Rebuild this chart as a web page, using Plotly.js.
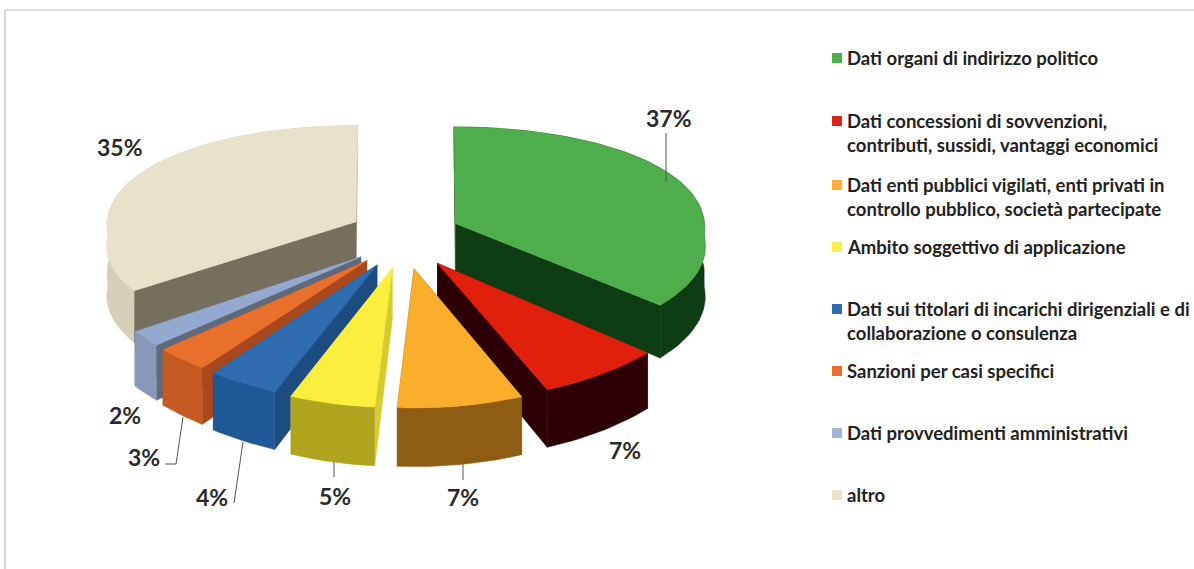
<!DOCTYPE html>
<html>
<head>
<meta charset="utf-8">
<script src="https://cdn.plot.ly/plotly-3.0.1.min.js"></script>
<style>html,body{margin:0;padding:0;background:#fff;overflow:hidden}#chart{width:1194px;height:569px}</style>
</head>
<body>
<div id="chart"></div>
<script>
// ---- data ----
const categories = [
  "Dati organi di indirizzo politico",
  "Dati concessioni di sovvenzioni,<br>contributi, sussidi, vantaggi economici",
  "Dati enti pubblici vigilati, enti privati in<br>controllo pubblico, società partecipate",
  "Ambito soggettivo di applicazione",
  "Dati sui titolari di incarichi dirigenziali e di<br>collaborazione o consulenza",
  "Sanzioni per casi specifici",
  "Dati provvedimenti amministrativi",
  "altro"
];
const values = [37, 7, 7, 5, 4, 3, 2, 35];
const topColors  = ["#4eae4c", "#e0200c", "#fbae2c", "#fbee3c", "#2f6db0", "#e8702c", "#94a9d0", "#e9e2cb"];
const rimColors  = ["#0e3d14", "#2c0004", "#8f5c14", "#b0a41e", "#1f5896", "#c55a22", "#8798b8", "#d6cfb8"];
const sideColors = ["#0e3d14", "#2c0004", "#8f5c14", "#d6ca30", "#1c4c80", "#a8481c", "#5e6a7c", "#776f5e"];
const legendColors = ["#4eae4c", "#d8261a", "#fbae3c", "#fbee50", "#2f6db0", "#e8702c", "#a4b4d4", "#ece4d0"];

// ---- presentation settings ----
const drawOrder = [7, 0, 6, 5, 4, 1, 3, 2];
const geo = {cx: 405, cy: 236, A: 250, B: 118, perspY: 0.1355, perspBack: 0.03,
             pullX: 0.22, pullY: 0.27, radiusY: 0.95, depth: 49};
const legendRowY = [58, 121, 185, 247, 309, 371, 433, 495];
const legendX = 837, legendTextX = 847, lineStep = 24;
const labelPos = [[669,118],[625,450],[463,497],[335,496],[212,497],[144,457],[125,415],[120,147]];
const leaders = [
  [[666,133],[666,182]],
  [[463,464],[463,480]],
  [[334,462],[334,477]],
  [[243,442],[234,503]],
  [[183,417],[176,464],[165,464]]
];
const labelFont = {family: "Lato, Carlito, sans-serif", size: 23, color: "#2a2a2a", weight: 700};
const legendFont = {family: "Lato, Carlito, sans-serif", size: 18.5, color: "#222", weight: 700};

// ---- projection of the exploded pie ----
function project(X, Y, z) {
  const s = 1 / (1 - Y * geo.perspY);
  const tx = Y < 0 ? geo.perspBack : (X < 0 ? Math.max(0, 0.22 - 0.125 * Y) : 0.2 - 0.07 * Y);
  const sx = 1 / (1 - Y * tx);
  return [geo.cx + geo.A * X * sx, geo.cy + geo.B * Y * s + z * geo.depth * s];
}
const total = values.reduce((a, b) => a + b, 0);
const sweeps = [];
values.reduce((acc, v) => { sweeps.push([acc / total, (acc + v) / total]); return acc + v; }, 0);

function slicePoints(i) {
  const t0 = sweeps[i][0] * 2 * Math.PI, t1 = sweeps[i][1] * 2 * Math.PI, mid = (t0 + t1) / 2;
  const ax = geo.pullX * Math.sin(mid), ay = -geo.pullY * Math.cos(mid);
  const n = Math.max(4, Math.ceil(values[i] * 2));
  const rim = [];
  for (let k = 0; k <= n; k++) {
    const t = t0 + (t1 - t0) * k / n;
    rim.push([ax + Math.sin(t), ay - geo.radiusY * Math.cos(t)]);
  }
  return {apex: [ax, ay], rim};
}
function shapeTrace(p, color, name) {
  return {type: "scatter", mode: "lines", x: p.map(q => q[0]), y: p.map(q => q[1]),
    fill: "toself", fillcolor: color, line: {color: color, width: 0.5},
    hoverinfo: "text", text: name, showlegend: false};
}
function band(points, color, name) {
  const t = points.map(q => project(q[0], q[1], 0));
  const b = points.slice().reverse().map(q => project(q[0], q[1], 1));
  return shapeTrace(t.concat(b), color, name);
}
const traces = [];
drawOrder.forEach(i => {
  const s = slicePoints(i), name = categories[i] + ": " + values[i] + "%";
  traces.push(band([s.apex, s.rim[0]], sideColors[i], name));
  traces.push(band([s.apex, s.rim[s.rim.length - 1]], sideColors[i], name));
  traces.push(band(s.rim, rimColors[i], name));
  traces.push(shapeTrace([s.apex].concat(s.rim, [s.apex]).map(q => project(q[0], q[1], 0)), topColors[i], name));
});

// leader lines
leaders.forEach(l => traces.push({type: "scatter", mode: "lines", x: l.map(q => q[0]), y: l.map(q => q[1]),
  line: {color: "#555", width: 1}, hoverinfo: "skip", showlegend: false}));

// legend swatches
traces.push({type: "scatter", mode: "markers", x: legendRowY.map(() => legendX), y: legendRowY,
  marker: {symbol: "square", size: 10, color: legendColors}, hoverinfo: "skip", showlegend: false});

const annotations = [];
values.forEach((v, i) => annotations.push({x: labelPos[i][0], y: labelPos[i][1], xref: "x", yref: "y",
  text: v + "%", showarrow: false, font: labelFont, xanchor: "center", yanchor: "middle"}));
categories.forEach((c, i) => c.split("<br>").forEach((line, j) => annotations.push({
  x: legendTextX, y: legendRowY[i] + j * lineStep, xref: "x", yref: "y", text: line, showarrow: false,
  font: legendFont, xanchor: "left", yanchor: "middle", xshift: -2})));

const hidden = {visible: false, fixedrange: true};
Plotly.newPlot("chart", traces, {
  width: 1194, height: 569, margin: {l: 0, r: 0, t: 0, b: 0},
  paper_bgcolor: "#fff", plot_bgcolor: "#fff", showlegend: false,
  xaxis: Object.assign({range: [0, 1194]}, hidden),
  yaxis: Object.assign({range: [569, 0]}, hidden),
  annotations,
  shapes: [
    {type: "line", xref: "x", yref: "y", x0: 5, x1: 1194, y0: 10, y1: 10, line: {color: "#bdbdbd", width: 1.2}},
    {type: "line", xref: "x", yref: "y", x0: 5, x1: 5, y0: 10, y1: 569, line: {color: "#bdbdbd", width: 1.2}}
  ]
}, {displayModeBar: false, responsive: false});
</script>
</body>
</html>
